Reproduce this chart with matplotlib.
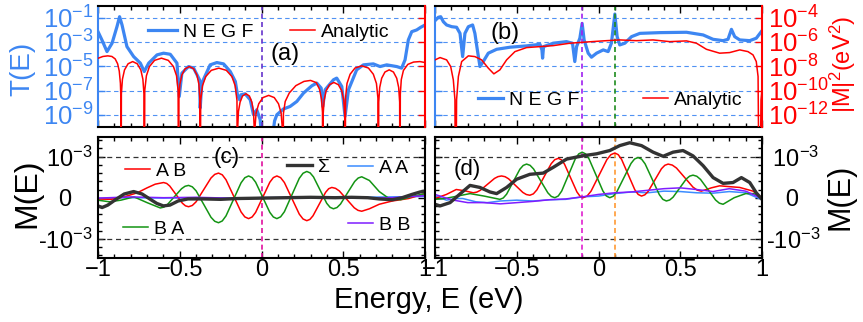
import numpy as np
import matplotlib
matplotlib.use("Agg")
import matplotlib.pyplot as plt
from matplotlib.ticker import FixedLocator, FixedFormatter, MultipleLocator, NullLocator
from matplotlib.legend import Legend

plt.rcParams['font.family'] = ['Liberation Sans', 'DejaVu Sans']
plt.rcParams['mathtext.fontset'] = 'custom'
plt.rcParams['mathtext.rm'] = 'Liberation Sans'
plt.rcParams['mathtext.it'] = 'Liberation Sans:italic'
plt.rcParams['mathtext.bf'] = 'Liberation Sans:bold'
plt.rcParams['mathtext.sf'] = 'Liberation Sans'
plt.rcParams['lines.solid_joinstyle'] = 'round'

# ---------------- data ----------------
# panel (a): NEGF transmission, log10 T
E_a_negf = [-1.0, -0.976, -0.945, -0.914, -0.884, -0.868, -0.853, -0.823, -0.782, -0.741, -0.717, -0.690,
            -0.639, -0.599, -0.558, -0.517, -0.503, -0.487, -0.446, -0.415, -0.379, -0.375, -0.365, -0.314,
            -0.273, -0.232, -0.191, -0.160, -0.147, -0.134, -0.126, -0.100, -0.069, -0.049, -0.029, -0.008,
            0.002, 0.065, 0.08, 0.094, 0.134, 0.175, 0.216, 0.257, 0.308, 0.338, 0.365, 0.375, 0.389, 0.440,
            0.460, 0.491, 0.511, 0.532, 0.582, 0.623, 0.684, 0.725, 0.766, 0.827, 0.857, 0.878, 0.898, 0.919,
            0.949, 0.974, 1.0]
logT_a_negf = [-2.16, -2.84, -3.80, -3.11, -1.75, -0.93, -1.61, -3.39, -4.21, -4.75, -5.44, -4.75,
               -4.07, -3.93, -4.02, -4.75, -7.49, -5.57, -5.03, -5.16, -6.12, -8.44, -6.39, -4.89,
               -4.70, -4.81, -5.44, -6.26, -7.35, -7.76, -7.35, -7.27, -7.76, -8.99, -8.58, -9.4,
               -11.0, -11.0, -9.5, -8.99, -8.52, -8.31, -7.9, -7.21, -6.61, -6.39, -6.80, -8.31, -6.94, -6.12,
               -5.98, -6.67, -9.13, -6.94, -5.30, -4.89, -4.81, -5.03, -4.89, -5.03, -5.16, -4.48, -2.84, -2.16,
               -2.02, -1.80, -1.61]
# panel (a): analytic, read on the left (T) grid; right |M|^2 axis is 3 decades lower
E_a_an = [-1.0, -0.97, -0.94, -0.915, -0.895, -0.88, -0.87, -0.863, -0.860, -0.859,
          -0.857, -0.8505, -0.838, -0.816, -0.788, -0.760, -0.738, -0.7255, -0.719, -0.717,
          -0.714, -0.704, -0.6855, -0.654, -0.612, -0.570, -0.5385, -0.5196, -0.510, -0.507,
          -0.505, -0.499, -0.487, -0.467, -0.441, -0.415, -0.395, -0.383, -0.377, -0.375,
          -0.372, -0.361, -0.341, -0.307, -0.261, -0.215, -0.181, -0.161, -0.150, -0.147,
          -0.145, -0.141, -0.131, -0.116, -0.095, -0.074, -0.059, -0.049, -0.045, -0.043,
          -0.040, -0.033, -0.017, 0.009, 0.044, 0.078, 0.104, 0.120, 0.127, 0.130,
          0.134, 0.145, 0.17, 0.21, 0.26, 0.30, 0.335, 0.355, 0.367, 0.373, 0.375,
          0.377, 0.383, 0.395, 0.416, 0.443, 0.470, 0.491, 0.503, 0.509, 0.511,
          0.514, 0.523, 0.542, 0.572, 0.613, 0.654, 0.684, 0.703, 0.712, 0.715,
          0.717, 0.723, 0.735, 0.755, 0.781, 0.807, 0.827, 0.839, 0.845, 0.847,
          0.849, 0.855, 0.868, 0.895, 0.93, 0.969, 1.0]
logT_a_an = [-4.35, -4.2, -4.15, -4.2, -4.4, -4.8, -5.4, -6.4, -7.6, -20,
             -7.27, -6.07, -5.31, -4.80, -4.62, -4.80, -5.31, -6.07, -7.27, -20,
             -6.99, -5.79, -5.03, -4.52, -4.34, -4.52, -5.03, -5.79, -6.99, -20,
             -7.68, -6.48, -5.72, -5.21, -5.03, -5.21, -5.72, -6.48, -7.68, -20,
             -7.81, -6.61, -5.85, -5.34, -5.16, -5.34, -5.85, -6.61, -7.81, -20,
             -9.92, -8.72, -7.96, -7.45, -7.27, -7.45, -7.96, -8.72, -9.92, -20,
             -10.05, -8.85, -8.09, -7.58, -7.4, -7.58, -8.09, -8.85, -10.05, -20,
             -8.9, -7.9, -7.2, -6.6, -6.25, -6.17, -6.35, -6.9, -7.7, -8.8, -20,
             -8.99, -7.79, -7.03, -6.52, -6.34, -6.52, -7.03, -7.79, -8.99, -20,
             -7.62, -6.42, -5.66, -5.15, -4.97, -5.15, -5.66, -6.42, -7.62, -20,
             -7.95, -6.75, -5.99, -5.48, -5.3, -5.48, -5.99, -6.75, -7.95, -20,
             -7.3, -6.1, -5.35, -4.85, -4.66, -4.62, -4.7]

# panel (b)
E_b_negf = [-1.0, -0.980, -0.965, -0.949, -0.929, -0.898, -0.868, -0.847, -0.831, -0.817, -0.796, -0.770,
            -0.756, -0.741, -0.725, -0.705, -0.674, -0.623, -0.542, -0.440, -0.358, -0.346, -0.342, -0.336,
            -0.277, -0.196, -0.159, -0.145, -0.134, -0.114, -0.100, -0.088, -0.063, -0.043, -0.012, 0.029,
            0.059, 0.079, 0.100, 0.114, 0.130, 0.161, 0.202, 0.253, 0.375, 0.538, 0.640, 0.701, 0.762,
            0.792, 0.813, 0.833, 0.864, 0.925, 0.965, 1.0]
logT_b_negf = [-1.26, -0.98, -0.93, -1.34, -1.61, -1.75, -1.80, -2.30, -4.21, -2.30, -1.75, -1.61,
               -2.30, -3.66, -5.03, -4.62, -3.93, -3.61, -3.44, -3.33, -3.20, -3.66, -4.34, -3.39,
               -3.11, -2.98, -3.11, -4.62, -3.39, -2.70, -1.48, -2.84, -3.93, -4.26, -3.93, -3.66,
               -3.80, -3.11, -0.71, -2.57, -3.25, -3.11, -2.57, -2.30, -2.24, -2.21, -2.43, -2.79, -2.90,
               -2.79, -1.97, -2.57, -2.84, -2.90, -2.70, -2.08]
E_b_an = [-1.0, -0.969, -0.929, -0.904, -0.888, -0.878, -0.874, -0.868, -0.857, -0.837,
          -0.796, -0.756, -0.715, -0.674, -0.640, -0.603, -0.562, -0.511, -0.440, -0.358,
          -0.277, -0.175, -0.073, 0.049, 0.130, 0.232, 0.334, 0.436, 0.538, 0.599,
          0.660, 0.741, 0.802, 0.864, 0.914, 0.945, 0.965, 0.976, 0.984, 0.994, 1.0]
logT_b_an = [-4.48, -4.29, -4.48, -5.03, -6.12, -7.76, -20, -7.76, -5.85, -4.62,
             -4.15, -4.21, -4.48, -5.16, -5.63, -5.30, -4.48, -3.80, -3.47, -3.39,
             -3.31, -3.11, -3.01, -2.90, -2.84, -2.90, -2.84, -2.98, -2.92, -3.11,
             -3.61, -3.93, -3.88, -3.66, -3.80, -4.07, -4.62, -5.85, -20, -7.76, -6.94]

# panel (c), M(E) in units of 1e-3
E_c_AB = [-1.0, -0.92, -0.84, -0.76, -0.70, -0.65, -0.599, -0.5799, -0.561, -0.5225, -0.484, -0.4651,
          -0.446, -0.4231, -0.400, -0.3545, -0.309, -0.2859, -0.263, -0.240, -0.217, -0.171, -0.125, -0.102,
          -0.079, -0.0574, -0.036, 0.0075, 0.051, 0.0724, 0.094, 0.1169, 0.140, 0.1855, 0.231, 0.2541,
          0.277, 0.2961, 0.315, 0.3535, 0.392, 0.4109, 0.430, 0.4529, 0.476, 0.5215, 0.567, 0.5901,
          0.613, 0.66, 0.72, 0.80, 0.90, 1.0]
M_c_AB = [-0.03, -0.04, 0.02, 0.12, 0.24, 0.33, 0.37, 0.348, 0.284, 0.075, -0.134, -0.198,
          -0.22, -0.189, -0.10, 0.19, 0.48, 0.569, 0.60, 0.558, 0.437, 0.045, -0.347, -0.468,
          -0.51, -0.470, -0.358, 0.01, 0.378, 0.490, 0.53, 0.489, 0.370, -0.015, -0.40, -0.519,
          -0.56, -0.529, -0.441, -0.155, 0.131, 0.219, 0.25, 0.228, 0.165, -0.04, -0.245, -0.308,
          -0.33, -0.27, -0.16, -0.08, -0.02, 0.10]
E_c_BA = [-1.0, -0.93, -0.86, -0.78, -0.70, -0.619, -0.5974, -0.576, -0.5325, -0.489, -0.4676,
          -0.446, -0.4231, -0.400, -0.3545, -0.309, -0.2859, -0.263, -0.240, -0.217, -0.171, -0.125, -0.102,
          -0.079, -0.0574, -0.036, 0.0075, 0.051, 0.0724, 0.094, 0.1169, 0.140, 0.1855, 0.231, 0.2541,
          0.277, 0.2974, 0.318, 0.3585, 0.399, 0.4196, 0.440, 0.4616, 0.483, 0.5265, 0.570, 0.5914,
          0.613, 0.66, 0.72, 0.78, 0.85, 0.92, 1.0]
M_c_BA = [-0.06, -0.10, -0.06, 0.02, -0.12, -0.25, -0.229, -0.169, 0.025, 0.219, 0.279,
          0.30, 0.265, 0.167, -0.155, -0.477, -0.575, -0.61, -0.567, -0.443, -0.04, 0.363, 0.487,
          0.53, 0.490, 0.378, 0.01, -0.358, -0.470, -0.51, -0.466, -0.342, 0.065, 0.472, 0.596,
          0.64, 0.605, 0.507, 0.185, -0.137, -0.235, -0.27, -0.240, -0.156, 0.12, 0.396, 0.480,
          0.51, 0.42, 0.15, -0.02, -0.05, 0.03, 0.10]
E_c_S = [-1.0, -0.975, -0.94, -0.89, -0.84, -0.782, -0.73, -0.68, -0.64, -0.60, -0.56, -0.51, -0.45,
         -0.35, -0.25, -0.15, 0.0, 0.15, 0.3, 0.45, 0.55, 0.65, 0.72, 0.80, 0.86, 0.92, 0.97, 1.0]
M_c_S = [-0.20, -0.24, -0.18, -0.04, 0.09, 0.15, 0.09, -0.04, -0.14, -0.20, -0.18, -0.08, -0.03,
         -0.03, -0.04, -0.02, -0.01, 0.0, 0.01, 0.0, 0.01, 0.0, -0.03, -0.05, 0.0, 0.08, 0.14, 0.16]
E_c_AA = [-1.0, -0.8, -0.6, -0.4, -0.2, 0.0, 0.2, 0.4, 0.6, 0.8, 1.0]
M_c_AA = [-0.02, 0.0, -0.01, 0.0, -0.01, 0.0, 0.01, 0.0, 0.01, 0.02, 0.03]
E_c_BB = [-1.0, -0.8, -0.6, -0.4, -0.2, 0.0, 0.2, 0.4, 0.6, 0.8, 1.0]
M_c_BB = [-0.01, 0.02, 0.0, 0.01, -0.01, 0.0, 0.0, 0.01, -0.01, 0.0, 0.05]

# panel (d)
E_d_S = [-1.0, -0.969, -0.908, -0.827, -0.786, -0.725, -0.664, -0.623, -0.562, -0.501, -0.420, -0.338,
         -0.277, -0.196, -0.100, -0.012, 0.069, 0.130, 0.191, 0.263, 0.334, 0.395, 0.456, 0.517, 0.578,
         0.640, 0.701, 0.762, 0.823, 0.874, 0.925, 0.965, 1.0]
M_d_S = [-0.16, -0.20, -0.12, 0.16, 0.30, 0.25, 0.14, 0.10, 0.25, 0.45, 0.57, 0.60,
         0.74, 0.94, 1.02, 1.07, 1.15, 1.27, 1.34, 1.27, 1.11, 1.01, 1.11, 1.15, 1.02,
         0.78, 0.49, 0.35, 0.37, 0.49, 0.37, 0.12, -0.04]
E_d_AB = [-1.0, -0.93, -0.87, -0.82, -0.766, -0.7444, -0.723, -0.6795, -0.636, -0.6146, -0.593, -0.5714,
          -0.550, -0.5065, -0.463, -0.4416, -0.420, -0.3983, -0.3765, -0.333, -0.2895, -0.2678, -0.246,
          -0.227, -0.208, -0.170, -0.132, -0.113, -0.094, -0.0698, -0.0455, 0.003, 0.0515, 0.0758, 0.100,
          0.1204, 0.141, 0.1815, 0.222, 0.2426, 0.263, 0.2834, 0.304, 0.3445, 0.385, 0.4056, 0.426, 0.4514,
          0.477, 0.5275, 0.578, 0.6036, 0.629, 0.69, 0.741, 0.80, 0.864, 0.945, 1.0]
M_d_AB = [-0.02, 0.08, 0.20, 0.17, 0.12, 0.136, 0.18, 0.325, 0.47, 0.514, 0.53, 0.512,
          0.461, 0.295, 0.129, 0.078, 0.06, 0.094, 0.192, 0.51, 0.828, 0.926, 0.96,
          0.924, 0.819, 0.48, 0.141, 0.036, 0.0, 0.041, 0.160, 0.545, 0.930, 1.049, 1.09,
          1.050, 0.936, 0.565, 0.194, 0.080, 0.04, 0.070, 0.154, 0.43, 0.706, 0.790, 0.82, 0.795,
          0.723, 0.49, 0.257, 0.185, 0.16, 0.24, 0.29, 0.27, 0.25, 0.16, 0.0]
E_d_BA = [-1.0, -0.94, -0.888, -0.786, -0.70, -0.603, -0.5826, -0.562, -0.5215, -0.481, -0.4604,
          -0.440, -0.4184, -0.397, -0.3535, -0.310, -0.2886, -0.267, -0.2461, -0.225, -0.1835, -0.142,
          -0.1209, -0.100, -0.0789, -0.058, -0.0155, 0.027, 0.0479, 0.069, 0.0906, 0.112, 0.1555, 0.199,
          0.2204, 0.242, 0.2636, 0.285, 0.3285, 0.372, 0.3934, 0.415, 0.4354, 0.456, 0.4965, 0.537, 0.5576,
          0.578, 0.601, 0.624, 0.670, 0.716, 0.739, 0.762, 0.83, 0.90, 0.95, 1.0]
M_d_BA = [-0.04, -0.02, 0.02, 0.10, 0.04, -0.04, -0.007, 0.086, 0.39, 0.694, 0.787,
          0.82, 0.789, 0.700, 0.41, 0.120, 0.031, 0.0, 0.042, 0.163, 0.555, 0.947,
          1.068, 1.11, 1.068, 0.947, 0.555, 0.163, 0.042, 0.0, 0.037, 0.144, 0.49, 0.836,
          0.943, 0.98, 0.940, 0.825, 0.45, 0.075, -0.040, -0.08, -0.056, 0.012, 0.235, 0.458, 0.526,
          0.55, 0.523, 0.446, 0.195, -0.056, -0.133, -0.16, 0.0, 0.10, 0.10, -0.03]
E_d_AA = [-1.0, -0.93, -0.87, -0.83, -0.75, -0.68, -0.60, -0.50, -0.40, -0.30, -0.20, -0.10, 0.0,
          0.1, 0.2, 0.3, 0.4, 0.5, 0.6, 0.7, 0.8, 0.9, 1.0]
M_d_AA = [0.04, -0.06, -0.02, -0.02, -0.10, -0.12, -0.08, -0.06, -0.08, -0.05, -0.04, 0.02, 0.04,
          0.10, 0.14, 0.12, 0.16, 0.15, 0.12, 0.11, 0.15, 0.12, -0.05]
E_d_BB = [-1.0, -0.9, -0.8, -0.7, -0.6, -0.5, -0.4, -0.3, -0.2, -0.1, 0.0, 0.1, 0.2, 0.3, 0.4, 0.5,
          0.6, 0.7, 0.8, 0.9, 1.0]
M_d_BB = [0.08, -0.05, -0.12, -0.12, -0.15, -0.12, -0.09, -0.05, -0.03, 0.02, 0.08, 0.12, 0.14, 0.18,
          0.22, 0.24, 0.20, 0.15, 0.22, 0.16, -0.02]

# ticks / labels
x_ticks = [-1, -0.5, 0, 0.5, 1]
x_ticklabels = ['\u22121', '\u22120.5', '0', '0.5', '1']
T_ticks = [1e-1, 1e-3, 1e-5, 1e-7, 1e-9]
T_ticklabels = [r'$\mathregular{10^{-1}}$', r'$\mathregular{10^{-3}}$', r'$\mathregular{10^{-5}}$',
                r'$\mathregular{10^{-7}}$', r'$\mathregular{10^{-9}}$']
M2_ticks = [1e-4, 1e-6, 1e-8, 1e-10, 1e-12]
M2_ticklabels = [r'$\mathregular{10^{-4}}$', r'$\mathregular{10^{-6}}$', r'$\mathregular{10^{-8}}$',
                 r'$\mathregular{10^{-10}}$', r'$\mathregular{10^{-12}}$']
M_ticks = [-1, 0, 1]
M_ticklabels_left = [r'-$\mathregular{10^{-3}}$', '0   ', r'$\mathregular{10^{-3}}$']
M_ticklabels_right = [r'-$\mathregular{10^{-3}}$', '   0', r' $\mathregular{10^{-3}}$']
vline_a = [0.0]
vline_b = [-0.1, 0.1]
vline_c = [0.0]
vline_d = [-0.1, 0.1]

# ---------------- style ----------------
BLUE = '#3d86f2'
RED = '#ff0000'
GREEN = '#139413'
AABLUE = '#3b8cff'
PURPLE = '#7f1cff'
DARK = '#333333'

W, H = 863, 322
fig = plt.figure(figsize=(W / 100, H / 100), dpi=100)


def rect(l, t, r, b):
    return [l / W, 1 - b / H, (r - l) / W, (b - t) / H]


axA = fig.add_axes(rect(98, 6, 425, 127))
axB = fig.add_axes(rect(435, 6, 762, 127))
axC = fig.add_axes(rect(98, 137, 425, 258))
axD = fig.add_axes(rect(435, 137, 762, 258))
axAr = axA.twinx()
axBr = axB.twinx()

for ax in [axA, axB, axC, axD]:
    ax.set_xlim(-1, 1)
    ax.xaxis.set_major_locator(FixedLocator(x_ticks))
    ax.xaxis.set_major_formatter(FixedFormatter(x_ticklabels))
    ax.xaxis.set_minor_locator(MultipleLocator(0.1))
    ax.tick_params(axis='x', which='both', direction='in', top=True, bottom=True, color='black', width=1)
    ax.tick_params(axis='x', which='major', length=5, labelsize=17, pad=1)
    ax.tick_params(axis='x', which='minor', length=3)
    for s in ax.spines.values():
        s.set_linewidth(1.5)

for ax in [axA, axB]:
    ax.tick_params(axis='x', which='both', labelbottom=False)

# top panels
for ax, axr, show_l, show_r in [(axA, axAr, True, False), (axB, axBr, False, True)]:
    ax.set_yscale('log')
    ax.set_ylim(1e-10, 10 ** -0.05)
    ax.yaxis.set_major_locator(FixedLocator(T_ticks))
    ax.yaxis.set_minor_locator(NullLocator())
    ax.yaxis.set_major_formatter(FixedFormatter(T_ticklabels))
    ax.tick_params(axis='y', direction='in', length=5, width=1, color=BLUE, labelcolor=BLUE,
                   labelsize=18.5, labelleft=show_l, pad=3)
    ax.spines['left'].set_color(BLUE)
    ax.spines['right'].set_visible(False)
    ax.grid(axis='y', which='major', color=BLUE, linestyle=(0, (4, 3)), linewidth=0.8, alpha=0.9)
    axr.set_yscale('log')
    axr.set_ylim(1e-13, 10 ** -3.05)
    axr.yaxis.set_major_locator(FixedLocator(M2_ticks))
    axr.yaxis.set_minor_locator(NullLocator())
    axr.yaxis.set_major_formatter(FixedFormatter(M2_ticklabels))
    axr.tick_params(axis='y', direction='in', length=5, width=1, color=RED, labelcolor=RED,
                    labelsize=18.5, labelright=show_r, pad=4)
    for s in ['left', 'top', 'bottom']:
        axr.spines[s].set_visible(False)
    axr.spines['right'].set_color(RED)
    axr.spines['right'].set_linewidth(1.5)

lA, = axA.plot(E_a_negf, 10.0 ** np.array(logT_a_negf), color=BLUE, lw=2.3)
rA, = axAr.plot(E_a_an, 10.0 ** (np.array(logT_a_an) - 3), color=RED, lw=1.1)
lB, = axB.plot(E_b_negf, 10.0 ** np.array(logT_b_negf), color=BLUE, lw=2.3)
rB, = axBr.plot(E_b_an, 10.0 ** (np.array(logT_b_an) - 3), color=RED, lw=1.1)

for e in vline_a:
    axA.axvline(e, color='#6633cc', ls=(0, (3, 2)), lw=1.2)
axB.axvline(vline_b[0], color='#a020f0', ls=(0, (3, 2)), lw=1.2)
axB.axvline(vline_b[1], color='#1e8c1e', ls=(0, (3, 2)), lw=1.2)

# bottom panels
for ax, labs in [(axC, M_ticklabels_left), (axD, M_ticklabels_right)]:
    ax.set_ylim(-1.47, 1.48)
    ax.yaxis.set_major_locator(FixedLocator(M_ticks))
    ax.yaxis.set_minor_locator(MultipleLocator(0.2))
    ax.yaxis.set_major_formatter(FixedFormatter(labs))
    ax.tick_params(axis='y', which='both', direction='in', left=True, right=True, width=1, labelsize=17)
    ax.tick_params(axis='y', which='major', length=5)
    ax.tick_params(axis='y', which='minor', length=3)
    for v in (M_ticks[0], M_ticks[2]):
        ax.axhline(v, color=DARK, ls=(0, (4, 3)), lw=0.9)
axC.tick_params(axis='y', pad=4)
axD.tick_params(axis='y', labelleft=False, labelright=True, pad=3)

for e in vline_c:
    axC.axvline(e, color='#e0109e', ls=(0, (3, 2)), lw=1.2)
axD.axvline(vline_d[0], color='#e020d0', ls=(0, (3, 2)), lw=1.2)
axD.axvline(vline_d[1], color='#ff9933', ls=(0, (3, 2)), lw=1.2)

hAA, = axC.plot(E_c_AA, M_c_AA, color=AABLUE, lw=1.1)
hAB, = axC.plot(E_c_AB, M_c_AB, color=RED, lw=1.1)
hBA, = axC.plot(E_c_BA, M_c_BA, color=GREEN, lw=1.1)
hBB, = axC.plot(E_c_BB, M_c_BB, color=PURPLE, lw=1.1)
hS, = axC.plot(E_c_S, M_c_S, color=DARK, lw=2.4)

axD.plot(E_d_AA, M_d_AA, color=AABLUE, lw=1.1)
axD.plot(E_d_AB, M_d_AB, color=RED, lw=1.1)
axD.plot(E_d_BA, M_d_BA, color=GREEN, lw=1.1)
axD.plot(E_d_BB, M_d_BB, color=PURPLE, lw=1.1)
axD.plot(E_d_S, M_d_S, color=DARK, lw=2.4)


def entry(ax, handle, label, x_px, y_px, left_px, top_px, fs, hl, pad=0.3):
    bx = (x_px - left_px) / 327.0
    by = 1 - (y_px - top_px) / 121.0
    leg = Legend(ax, [handle], [label], loc='center left', bbox_to_anchor=(bx, by),
                 bbox_transform=ax.transAxes, frameon=False, borderpad=0, borderaxespad=0,
                 handlelength=hl, handletextpad=pad, fontsize=fs)
    ax.add_artist(leg)


entry(axAr, lA, 'N E G F', 148, 32, 98, 6, 14, 1.5)
entry(axAr, rA, 'Analytic', 290, 32, 98, 6, 14, 1.3)
entry(axBr, lB, 'N E G F', 478, 100, 435, 6, 14, 1.3)
entry(axBr, rB, 'Analytic', 643, 100, 435, 6, 14, 1.3)
entry(axC, hAB, 'A B', 125, 171, 98, 137, 14, 1.3)
entry(axC, hBA, 'B A', 123, 229, 98, 137, 14, 1.3)
entry(axC, hS, '\u03a3', 287, 167, 98, 137, 14, 1.3)
entry(axC, hAA, 'A A', 348, 168, 98, 137, 14, 1.3)
entry(axC, hBB, 'B B', 348, 225, 98, 137, 14, 1.3)


def ftext(x, y, s, **kw):
    fig.text(x / W, 1 - y / H, s, **kw)


ftext(285, 54, '(a)', fontsize=17, ha='center', va='center')
ftext(505, 33, '(b)', fontsize=17, ha='center', va='center')
ftext(227, 157, '(c)', fontsize=16, ha='center', va='center')
ftext(467, 169, '(d)', fontsize=16, ha='center', va='center')

ftext(22, 69, 'T(E)', fontsize=20, color=BLUE, rotation=90, ha='center', va='center')
ftext(843, 64, r'$\mathregular{|M|^2(eV^2)}$', fontsize=17, color=RED, rotation=90, ha='center', va='center')
ftext(27, 193, 'M(E)', fontsize=23, rotation=90, ha='center', va='center')
ftext(840, 197, 'M(E)', fontsize=22, rotation=90, ha='center', va='center')
ftext(429, 308, 'Energy, E (eV)', fontsize=21, ha='center', va='baseline')

fig.savefig('out.png', dpi=100)
